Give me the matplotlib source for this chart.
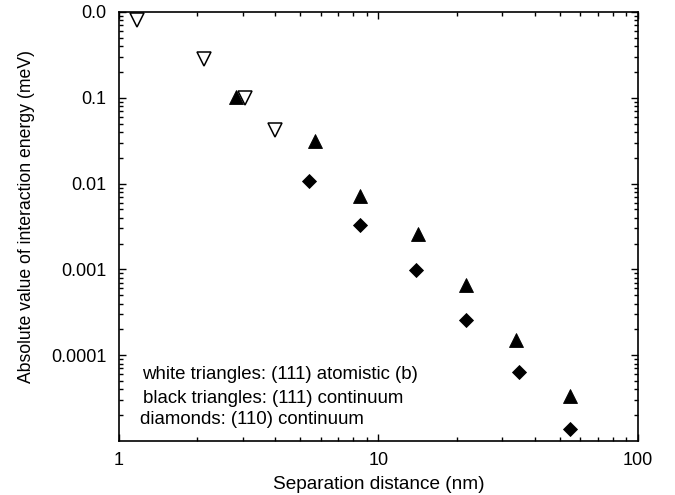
import matplotlib
matplotlib.use("Agg")
import matplotlib.pyplot as plt
from matplotlib.ticker import LogLocator, NullFormatter

plt.rcParams['font.family'] = ['Liberation Sans', 'DejaVu Sans']

# white triangles: (111) atomistic (b)
dist_atom = [1.17, 2.12, 3.06, 3.99]
energy_atom = [0.80, 0.282, 0.099, 0.0425]

# black triangles: (111) continuum
dist_111 = [2.82, 5.69, 8.49, 14.2, 21.7, 34.0, 54.8]
energy_111 = [0.1035, 0.031, 0.0072, 0.00257, 0.00066, 0.000149, 0.0000336]

# diamonds: (110) continuum
dist_110 = [5.40, 8.49, 13.9, 21.7, 34.8, 54.8]
energy_110 = [0.0108, 0.00327, 0.00098, 0.000257, 0.000064, 0.0000137]

ytick_vals = [0.0001, 0.001, 0.01, 0.1, 1.0]
ytick_labels = ["0.0001", "0.001", "0.01", "0.1", "0.0"]
xtick_vals = [1, 10, 100]
xtick_labels = ["1", "10", "100"]

notes = ["white triangles: (111) atomistic (b)",
         "black triangles: (111) continuum",
         "diamonds: (110) continuum"]

fig = plt.figure(figsize=(6.75, 4.95), dpi=100)
ax = fig.add_axes([0.1763, 0.1091, 0.7687, 0.8667])

ax.plot(dist_atom, energy_atom, linestyle="none", marker="v", ms=10,
        mfc="white", mec="black", mew=1.1)
ax.plot(dist_111, energy_111, linestyle="none", marker="^", ms=10,
        mfc="black", mec="black", mew=0.6)
ax.plot(dist_110, energy_110, linestyle="none", marker="D", ms=7,
        mfc="black", mec="black", mew=0.6)

ax.set_xscale("log")
ax.set_yscale("log")
ax.set_xlim(1, 100)
ax.set_ylim(1e-5, 1)

ax.set_xticks(xtick_vals)
ax.set_xticklabels(xtick_labels)
ax.set_yticks(ytick_vals)
ax.set_yticklabels(ytick_labels)
ax.xaxis.set_minor_locator(LogLocator(base=10, subs=range(2, 10)))
ax.yaxis.set_minor_locator(LogLocator(base=10, subs=range(2, 10)))
ax.xaxis.set_minor_formatter(NullFormatter())
ax.yaxis.set_minor_formatter(NullFormatter())

ax.tick_params(which="both", direction="in", top=True, right=True,
               labelsize=13, width=1)
ax.tick_params(which="major", length=5)
ax.tick_params(which="minor", length=3)
ax.tick_params(axis="y", pad=9)
ax.tick_params(axis="x", pad=8)

for s in ax.spines.values():
    s.set_linewidth(1.2)

ax.set_xlabel("Separation distance (nm)", fontsize=13.7, labelpad=5)
ax.set_ylabel("Absolute value of interaction energy (meV)", fontsize=12.7)
ax.yaxis.set_label_coords(-0.162, 0.524)

note_y = [0.154, 0.100, 0.049]
note_x = [0.044, 0.046, 0.041]
for t, x, y in zip(notes, note_x, note_y):
    ax.text(x, y, t, transform=ax.transAxes, fontsize=13.4, va="center", ha="left")

fig.savefig("out.png", dpi=100)
